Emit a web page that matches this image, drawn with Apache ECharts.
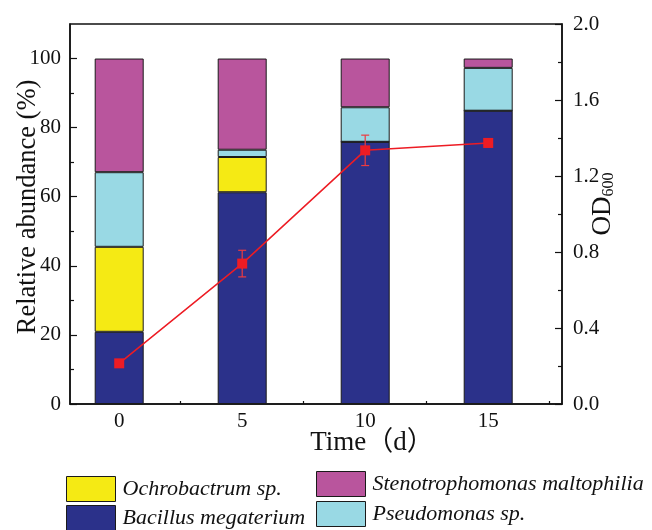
<!DOCTYPE html>
<html>
<head>
<meta charset="utf-8">
<script src="https://cdn.jsdelivr.net/npm/echarts@6/dist/echarts.min.js"></script>
<style>
  html, body { margin: 0; padding: 0; background: #fff; }
  #chart { width: 652px; height: 530px; }
</style>
</head>
<body>
<div id="chart"></div>
<script>
var days = [0, 5, 10, 15];
var bacillus = [20.9, 61.3, 75.9, 84.9];
var ochrobactrum = [24.6, 10.2, 0, 0];
var pseudomonas = [21.6, 2.1, 10.0, 12.4];
var stenotrophomonas = [32.9, 26.4, 14.1, 2.7];
var od600 = [0.214, 0.739, 1.335, 1.374];
var od600Err = [0.01, 0.07, 0.08, 0.02];

var xTicks = [0, 2.5, 5, 7.5, 10, 12.5, 15, 17.5];
var xLabels = [0, 5, 10, 15];
var yMajor = [0, 20, 40, 60, 80, 100];
var yMinor = [10, 30, 50, 70, 90];

var serif = "'Liberation Serif', 'Times New Roman', 'Noto Sans CJK SC', serif";
var black = '#111';

// value first, day second: the stack then runs on the value column
function stackPairs(values) {
  return days.map(function (d, i) { return [values[i], d]; });
}

function barSeries(name, values, color) {
  return {
    name: name,
    type: 'bar',
    stack: 'abundance',
    barWidth: 49,
    encode: { x: 1, y: 0 },
    data: stackPairs(values),
    itemStyle: { color: color, borderColor: '#1a1a1a', borderWidth: 1 },
    emphasis: { disabled: true }
  };
}

function legendAt(name, left, top) {
  return {
    data: [name],
    left: left,
    top: top,
    padding: 0,
    icon: 'rect',
    itemWidth: 49,
    itemHeight: 25,
    selectedMode: false,
    itemStyle: { borderColor: '#1a1a1a', borderWidth: 1 },
    textStyle: { fontFamily: serif, fontStyle: 'italic', fontSize: 22, color: black, padding: [0, 0, 0, 2] }
  };
}

var chart = echarts.init(document.getElementById('chart'));

var option = {
  animation: false,
  grid: {
    left: 70, right: 90, top: 24, bottom: 126,
    containLabel: false,
    outerBoundsMode: 'none',
    show: true, borderColor: black, borderWidth: 1.5
  },
  legend: [
    legendAt('Ochrobactrum sp.', 66, 476),
    legendAt('Bacillus megaterium', 66, 505),
    legendAt('Stenotrophomonas maltophilia', 316, 471),
    legendAt('Pseudomonas sp.', 316, 501)
  ],
  xAxis: {
    type: 'value',
    min: -2,
    max: 18,
    name: 'Time（d）',
    nameLocation: 'middle',
    nameGap: 25,
    nameMoveOverlap: false,
    nameTextStyle: { fontFamily: serif, fontSize: 27, color: black, padding: [0, 0, 0, 112] },
    axisLine: { onZero: false, lineStyle: { color: black, width: 1.5 } },
    axisTick: { inside: true, length: 3, customValues: xTicks, lineStyle: { color: black, width: 1.2 } },
    axisLabel: { customValues: xLabels, margin: 7, fontFamily: serif, fontSize: 21, color: black },
    splitLine: { show: false }
  },
  yAxis: [{
    type: 'value',
    min: 0,
    max: 110,
    position: 'left',
    name: 'Relative abundance (%)',
    nameLocation: 'middle',
    nameGap: 29,
    nameMoveOverlap: false,
    nameTextStyle: { fontFamily: serif, fontSize: 26.5, color: black, padding: [0, 0, 0, 14] },
    axisLine: { show: true, onZero: false, lineStyle: { color: black, width: 1.5 } },
    axisTick: { inside: true, length: 7, customValues: yMajor, lineStyle: { color: black, width: 1.2 } },
    axisLabel: { customValues: yMajor, margin: 9, fontFamily: serif, fontSize: 21, color: black },
    splitLine: { show: false }
  }, {
    type: 'value',
    min: 0,
    max: 2.0,
    interval: 0.4,
    position: 'right',
    name: '{a|OD}{b|600}',
    nameLocation: 'middle',
    nameGap: 26,
    nameMoveOverlap: false,
    nameTextStyle: {
      color: black,
      padding: [0, 0, 0, 20],
      rich: {
        a: { fontFamily: serif, fontSize: 27, color: black },
        b: { fontFamily: serif, fontSize: 16, color: black, padding: [13, 0, 0, 0] }
      }
    },
    axisLine: { show: true, onZero: false, lineStyle: { color: black, width: 1.5 } },
    axisTick: { inside: true, length: 7, lineStyle: { color: black, width: 1.2 } },
    minorTick: { show: true, splitNumber: 2, length: 4, lineStyle: { color: black, width: 1.2 } },
    axisLabel: {
      margin: 11, fontFamily: serif, fontSize: 21, color: black,
      formatter: function (v) { return v.toFixed(1); }
    },
    splitLine: { show: false }
  }, {
    type: 'value',
    min: 0,
    max: 110,
    position: 'left',
    axisLine: { show: false, onZero: false },
    axisTick: { inside: true, length: 4, customValues: yMinor, lineStyle: { color: black, width: 1.2 } },
    axisLabel: { show: false },
    splitLine: { show: false }
  }],
  series: [
    barSeries('Bacillus megaterium', bacillus, '#2b318a'),
    barSeries('Ochrobactrum sp.', ochrobactrum, '#f5ea14'),
    barSeries('Pseudomonas sp.', pseudomonas, '#99d9e4'),
    barSeries('Stenotrophomonas maltophilia', stenotrophomonas, '#b9559d'),
    {
      name: 'OD600 error',
      type: 'custom',
      yAxisIndex: 1,
      z: 3,
      data: days.map(function (d, i) { return [d, od600[i] - od600Err[i], od600[i] + od600Err[i]]; }),
      renderItem: function (params, api) {
        var lo = api.coord([api.value(0), api.value(1)]);
        var hi = api.coord([api.value(0), api.value(2)]);
        var cap = 4;
        var style = { stroke: '#ee3a3f', lineWidth: 1.2 };
        return {
          type: 'group',
          children: [
            { type: 'line', shape: { x1: lo[0], y1: lo[1], x2: hi[0], y2: hi[1] }, style: style },
            { type: 'line', shape: { x1: lo[0] - cap, y1: lo[1], x2: lo[0] + cap, y2: lo[1] }, style: style },
            { type: 'line', shape: { x1: hi[0] - cap, y1: hi[1], x2: hi[0] + cap, y2: hi[1] }, style: style }
          ]
        };
      }
    },
    {
      name: 'OD600',
      type: 'line',
      yAxisIndex: 1,
      z: 4,
      data: days.map(function (d, i) { return [d, od600[i]]; }),
      symbol: 'rect',
      symbolSize: 10,
      lineStyle: { color: '#ed1c24', width: 1.5 },
      itemStyle: { color: '#ed1c24' },
      emphasis: { disabled: true }
    }
  ]
};

chart.setOption(option);
window.onresize = chart.resize;
</script>
</body>
</html>
